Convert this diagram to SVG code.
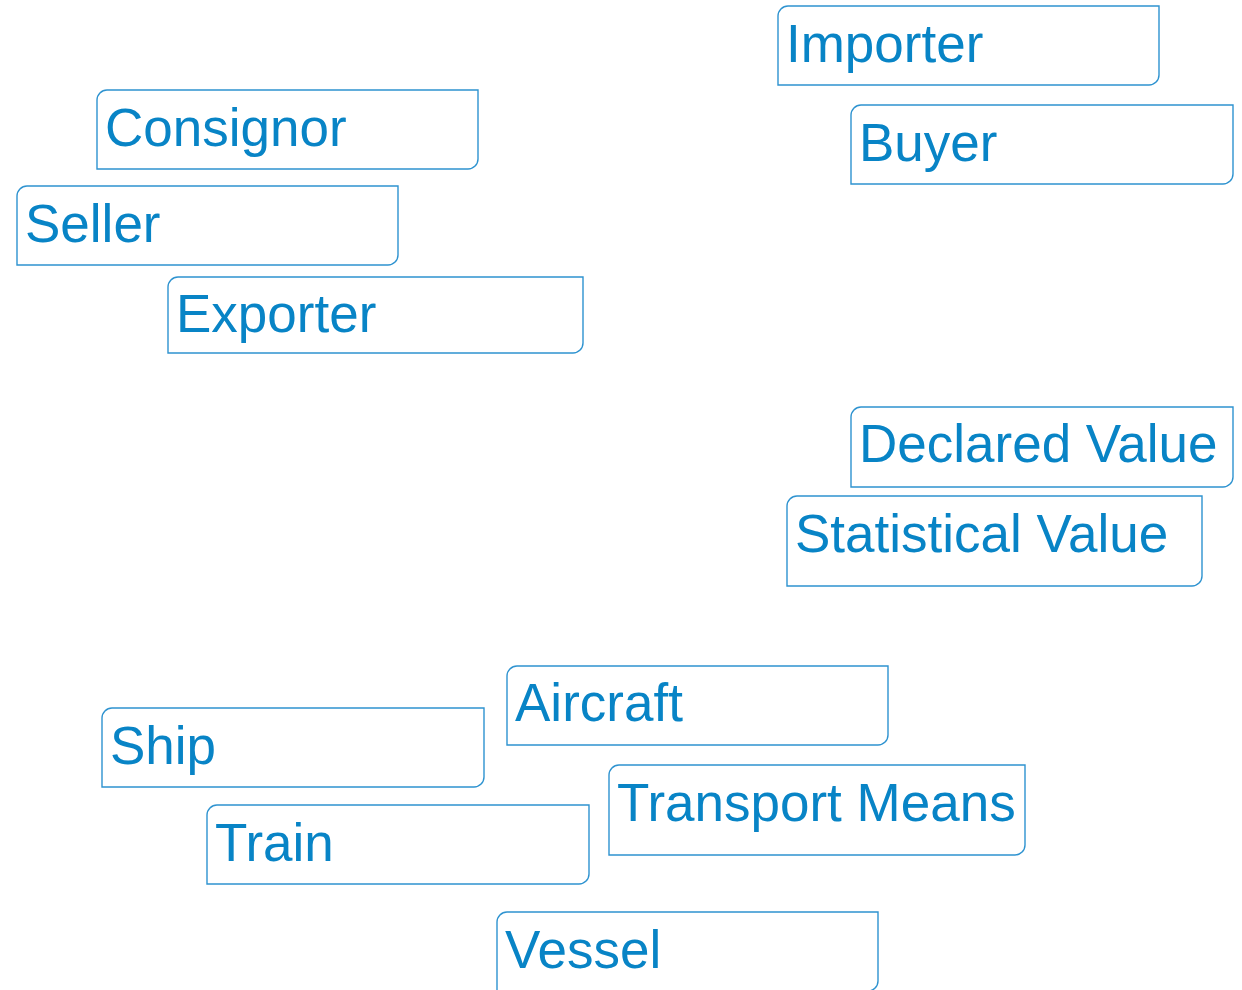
<svg xmlns="http://www.w3.org/2000/svg" width="1242" height="990" viewBox="0 0 1242 990">
<style>
.box{fill:#fff;stroke:#2e93d0;stroke-width:1.4}
.lbl{font-family:"Liberation Sans",Arial,sans-serif;font-size:53px;fill:#0884c6}
</style>
<rect width="1242" height="990" fill="#fff"/>
<g id="connectors"></g>
<g id="importer"><path class="box" d="M778,16 A10,10 0 0 1 788,6 H1159 V75 A10,10 0 0 1 1149,85 H778 Z"/><text class="lbl" x="786" y="62">Importer</text></g>
<g id="buyer"><path class="box" d="M851,115 A10,10 0 0 1 861,105 H1233 V174 A10,10 0 0 1 1223,184 H851 Z"/><text class="lbl" x="859" y="161">Buyer</text></g>
<g id="consignor"><path class="box" d="M97,100 A10,10 0 0 1 107,90 H478 V159 A10,10 0 0 1 468,169 H97 Z"/><text class="lbl" x="105" y="146">Consignor</text></g>
<g id="seller"><path class="box" d="M17,196 A10,10 0 0 1 27,186 H398 V255 A10,10 0 0 1 388,265 H17 Z"/><text class="lbl" x="25" y="242">Seller</text></g>
<g id="exporter"><path class="box" d="M168,287 A10,10 0 0 1 178,277 H583 V343 A10,10 0 0 1 573,353 H168 Z"/><text class="lbl" x="176" y="332">Exporter</text></g>
<g id="declared-value"><path class="box" d="M851,417 A10,10 0 0 1 861,407 H1233 V477 A10,10 0 0 1 1223,487 H851 Z"/><text class="lbl" x="859" y="462">Declared Value</text></g>
<g id="statistical-value"><path class="box" d="M787,506 A10,10 0 0 1 797,496 H1202 V576 A10,10 0 0 1 1192,586 H787 Z"/><text class="lbl" x="795" y="552">Statistical Value</text></g>
<g id="aircraft"><path class="box" d="M507,676 A10,10 0 0 1 517,666 H888 V735 A10,10 0 0 1 878,745 H507 Z"/><text class="lbl" x="515" y="721">Aircraft</text></g>
<g id="ship"><path class="box" d="M102,718 A10,10 0 0 1 112,708 H484 V777 A10,10 0 0 1 474,787 H102 Z"/><text class="lbl" x="110" y="764">Ship</text></g>
<g id="transport-means"><path class="box" d="M609,775 A10,10 0 0 1 619,765 H1025 V845 A10,10 0 0 1 1015,855 H609 Z"/><text class="lbl" x="617" y="821">Transport Means</text></g>
<g id="train"><path class="box" d="M207,815 A10,10 0 0 1 217,805 H589 V874 A10,10 0 0 1 579,884 H207 Z"/><text class="lbl" x="215" y="861">Train</text></g>
<g id="vessel"><path class="box" d="M497,922 A10,10 0 0 1 507,912 H878 V981 A10,10 0 0 1 868,991 H497 Z"/><text class="lbl" x="505" y="968">Vessel</text></g>
</svg>
